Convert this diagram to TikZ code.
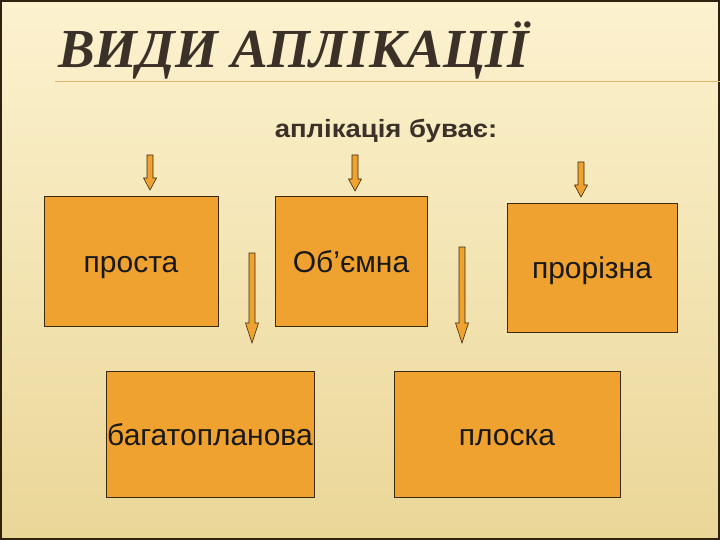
\documentclass[tikz,border=0pt]{standalone}
\usepackage{fontspec}
\setmainfont{Liberation Sans}
\newfontfamily\titlefont{Liberation Serif}
\definecolor{boxorange}{HTML}{EFA22F}
\definecolor{boxedge}{HTML}{3A2A12}
\definecolor{bgtop}{HTML}{FCF2CF}
\definecolor{bgbottom}{HTML}{EAD697}
\definecolor{titlebrown}{HTML}{3B3128}
\definecolor{rulecolor}{HTML}{D8B46E}
\tikzset{
  kind/.style={draw=boxedge, line width=0.8pt, fill=boxorange, inner sep=0pt,
    font=\fontsize{30}{32}\selectfont, text=black!90, text height=22pt, text depth=0pt},
  blockarrow/.style={draw=boxedge, line width=0.6pt, fill=boxorange}
}
\begin{document}
\begin{tikzpicture}[x=1pt,y=-1pt]
\useasboundingbox (0,0) rectangle (720,540);
% фон і рамка
\shade[top color=bgtop, bottom color=bgbottom] (0,0) rectangle (720,540);
\draw[boxedge!80!black, line width=2pt] (1,1) rectangle (719,539);
\draw[rulecolor, line width=1pt] (55,82) -- (720,82);
% заголовок
\node[anchor=base west, inner sep=0pt, text=titlebrown, font=\titlefont\bfseries\itshape\fontsize{55}{57}\selectfont]
  (title) at (58,68) {ВИДИ АПЛІКАЦІЇ};
\node[font=\bfseries\fontsize{25}{27}\selectfont, text=titlebrown, xscale=1.1] (sub) at (386,131) {аплікація буває:};
% види
\node[kind, minimum width=174, minimum height=130] (prosta) at (131,261) {проста};
\node[kind, minimum width=152, minimum height=130] (obyemna) at (351,261) {Об’ємна};
\node[kind, minimum width=170, minimum height=129] (prorizna) at (592,267.5) {прорізна};
\node[kind, minimum width=208, minimum height=126] (bahato) at (210,434) {багатопланова};
\node[kind, minimum width=226, minimum height=126] (ploska) at (507,434) {плоска};
% стрілки
\foreach \x/\top/\tip/\head in {150/155/190/12, 355/155/191/12, 581/162/197/12, 252/253/343/20, 462/247/343/20} {
  \draw[blockarrow] (\x-3,\top) -- (\x+3,\top) -- (\x+3,\tip-\head) -- (\x+6.5,\tip-\head)
    -- (\x,\tip) -- (\x-6.5,\tip-\head) -- (\x-3,\tip-\head) -- cycle;
}
\end{tikzpicture}
\end{document}
